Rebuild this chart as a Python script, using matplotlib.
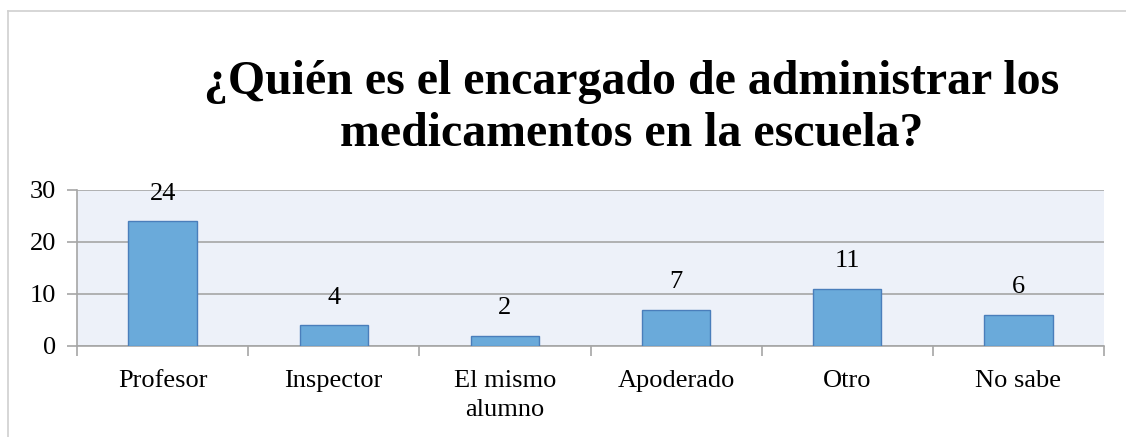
import matplotlib.pyplot as plt
import numpy as np

# datos
categorias = ['Profesor', 'Inspector', 'El mismo\nalumno', 'Apoderado', 'Otro', 'No sabe']
valores = [24, 4, 2, 7, 11, 6]
titulo = '¿Quién es el encargado de administrar los\nmedicamentos en la escuela?'

plt.rcParams['font.family'] = ['Liberation Serif', 'DejaVu Serif']

fig = plt.figure(figsize=(11.26, 4.37), dpi=100)
ax = fig.add_axes([77 / 1126, 1 - 346 / 437, (1104 - 77) / 1126, (346 - 190) / 437])

x = np.arange(len(categorias))
ax.bar(x, valores, width=0.4, color='#6AAADA', edgecolor='#4A7EBB', linewidth=1, zorder=3)
for xi, v in zip(x, valores):
    ax.text(xi, v + 3.2, str(v), ha='center', va='bottom', fontsize=19)

ax.set_facecolor('#EDF1F9')
ax.set_xlim(-0.5, len(categorias) - 0.5)
ax.set_ylim(0, 30)
ax.set_yticks([0, 10, 20, 30])
ax.yaxis.grid(True, color='#A6A6A6', linewidth=1.2, zorder=0)
ax.set_xticks(np.arange(-0.5, len(categorias), 1))
ax.set_xticklabels([])
ax.set_xticks(x, minor=True)
ax.set_xticklabels(categorias, minor=True, fontsize=19, linespacing=1.45)
ax.tick_params(axis='x', which='minor', length=0, pad=17)
ax.tick_params(axis='x', which='major', length=7, color='#A6A6A6', width=1.2)
ax.tick_params(axis='y', length=7, color='#A6A6A6', width=1.2, labelsize=19, pad=8)
for s in ['top', 'right']:
    ax.spines[s].set_visible(False)
for s in ['left', 'bottom']:
    ax.spines[s].set_color('#A6A6A6')
    ax.spines[s].set_linewidth(1.2)

fig.text(632 / 1126, 1 - 108 / 437, titulo, ha='center', va='center', fontsize=34.5,
         fontweight='bold', linespacing=1.22)

# marco del gráfico
fig.add_artist(plt.Line2D([8 / 1126, 1], [1 - 11 / 437, 1 - 11 / 437], color='#D0D0D0', lw=1.2))
fig.add_artist(plt.Line2D([8 / 1126, 8 / 1126], [0, 1 - 11 / 437], color='#D0D0D0', lw=1.2))

fig.savefig('out.png', dpi=100)
